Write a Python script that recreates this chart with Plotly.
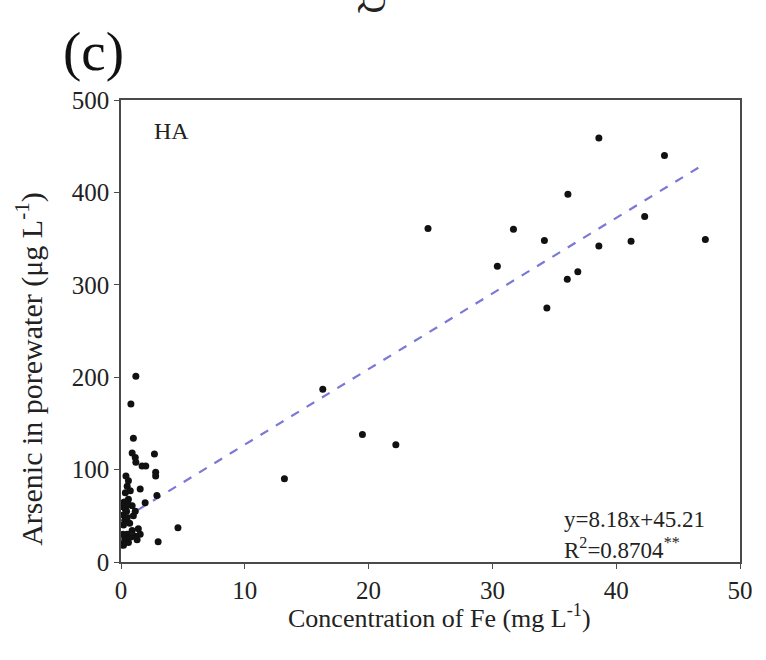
import plotly.graph_objects as go

# Fe and As concentrations in porewater (HA treatment)
fe_conc = [
    1.2, 0.8, 1.0, 0.9, 2.7, 1.15, 1.2, 1.7, 2.0, 2.8, 2.8, 0.4, 0.6, 0.5, 0.75,
    1.55, 2.9, 0.35, 0.6, 1.95, 0.9, 0.35, 1.15, 0.2, 0.3, 0.2, 1.4, 0.9, 0.5,
    1.15, 0.3, 1.55, 0.6, 0.2, 3.0, 0.1, 0.5, 0.7, 0.25, 1.3, 0.8, 0.15, 1.0,
    0.45, 0.2, 0.6,
    4.6, 13.2, 16.3, 19.5, 22.2, 24.8, 30.4, 31.7, 34.2, 34.4, 36.1, 36.05,
    36.9, 38.6, 38.6, 41.2, 42.3, 43.9, 47.2,
]
as_conc = [
    201, 171, 134, 118, 117, 113, 108, 104, 104, 97, 93, 93, 88, 82, 77,
    79, 72, 75, 68, 64, 61, 57, 55, 51, 45, 40, 36, 34, 30,
    28, 25, 30, 21, 18, 22, 60, 48, 42, 65, 24, 27, 30, 50,
    55, 20, 62,
    37, 90, 187, 138, 127, 361, 320, 360, 348, 275, 398, 306,
    314, 459, 342, 347, 374, 440, 349,
]

# Linear fit y = 8.18x + 45.21 over the data range
slope, intercept = 8.18, 45.21
fit_x = [min(fe_conc), max(fe_conc)]
fit_y = [slope * v + intercept for v in fit_x]

x_ticks = [0, 10, 20, 30, 40, 50]
y_ticks = [0, 100, 200, 300, 400, 500]

serif = "Liberation Serif"
ink = "#222222"

fig = go.Figure()
fig.add_trace(go.Scatter(
    x=fit_x, y=fit_y, mode="lines",
    line=dict(color="#7b78d6", width=2.2, dash="dash"),
    showlegend=False, hoverinfo="skip",
))
fig.add_trace(go.Scatter(
    x=fe_conc, y=as_conc, mode="markers",
    marker=dict(color="#111111", size=7),
    showlegend=False,
))

axis_common = dict(
    showgrid=False, zeroline=False,
    showline=True, linecolor="#4a4a4a", linewidth=1.6, mirror=True,
    ticks="outside", ticklen=5, tickwidth=1.3, tickcolor="#4a4a4a",
    tickfont=dict(family=serif, size=25, color=ink),
)

fig.update_layout(
    width=766, height=660,
    margin=dict(l=121, r=26, t=100, b=98),
    paper_bgcolor="white", plot_bgcolor="white",
    xaxis=dict(range=[0, 50], tickvals=x_ticks, **axis_common),
    yaxis=dict(range=[0, 500], tickvals=y_ticks, **axis_common),
    annotations=[
        # axis titles
        dict(text="Concentration of Fe (mg L<sup>-1</sup>)", xref="paper", yref="paper",
             x=0.515, y=-0.118, xanchor="center", yanchor="middle", showarrow=False,
             font=dict(family=serif, size=26, color=ink)),
        dict(text="Arsenic in porewater (μg L<sup>-1</sup>)", xref="paper", yref="paper",
             x=-0.147, y=0.416, xanchor="center", yanchor="middle", showarrow=False,
             textangle=-90, font=dict(family=serif, size=30, color=ink)),
        # panel label and a glyph from the panel above
        dict(text="(c)", xref="paper", yref="paper", x=-0.097, y=1.104,
             xanchor="left", yanchor="middle", showarrow=False,
             font=dict(family=serif, size=55, color="#111111")),
        dict(text="Q", xref="paper", yref="paper", x=0.41, y=1.213,
             xanchor="center", yanchor="middle", showarrow=False, textangle=90,
             font=dict(family=serif, size=34, color=ink)),
        dict(text="HA", xref="paper", yref="paper", x=0.05, y=0.932,
             xanchor="left", yanchor="middle", showarrow=False,
             font=dict(family=serif, size=24, color=ink)),
        dict(text="y=8.18x+45.21", xref="paper", yref="paper", x=0.712, y=0.092,
             xanchor="left", yanchor="middle", showarrow=False,
             font=dict(family=serif, size=23, color=ink)),
        dict(text="R<sup>2</sup>=0.8704<sup>**</sup>", xref="paper", yref="paper",
             x=0.712, y=0.03, xanchor="left", yanchor="middle", showarrow=False,
             font=dict(family=serif, size=23, color=ink)),
    ],
)

fig.write_html("out.html")
